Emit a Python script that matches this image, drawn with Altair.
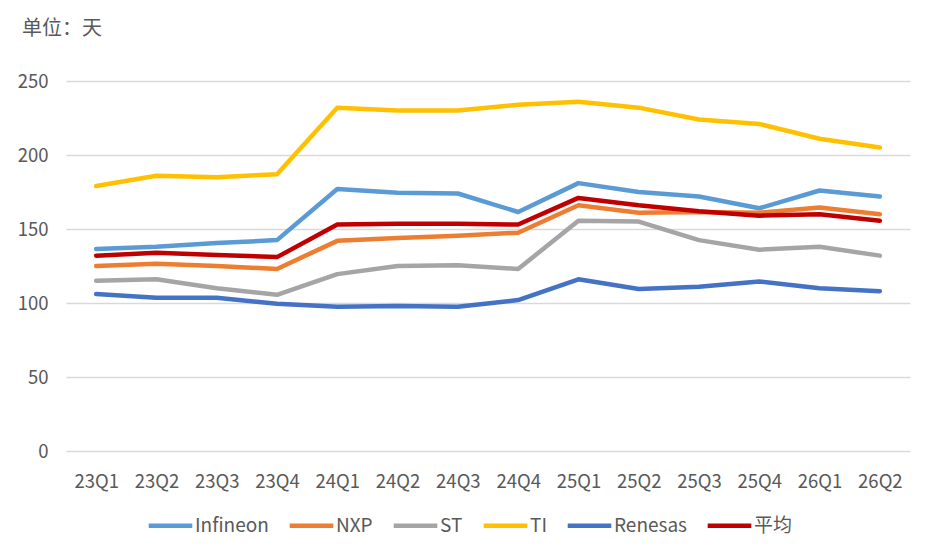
import altair as alt
import pandas as pd

quarters = ["23Q1", "23Q2", "23Q3", "23Q4", "24Q1", "24Q2", "24Q3", "24Q4",
            "25Q1", "25Q2", "25Q3", "25Q4", "26Q1", "26Q2"]
series_names = ["Infineon", "NXP", "ST", "TI", "Renesas", "平均"]
colors = ["#5B9BD5", "#ED7D31", "#A5A5A5", "#FFC000", "#4472C4", "#C00000"]
widths = [4.5, 4.5, 4.5, 4.5, 4.5, 6.5]

infineon = [136.5, 138, 140.5, 142.5, 177, 174.5, 174, 161.5, 181, 175, 172, 164, 176, 172]
nxp = [125, 126.5, 125, 123, 142, 144, 145.5, 147.5, 166, 161, 161.5, 161, 164.5, 160]
st = [115, 116, 110, 105.5, 119.5, 125, 125.5, 123, 155.5, 155, 142.5, 136, 138, 132]
ti = [179, 186, 185, 187, 232, 230, 230, 234, 236, 232, 224, 221, 211, 205]
renesas = [106, 103.5, 103.5, 99.5, 97.5, 98, 97.5, 102, 116, 109.5, 111, 114.5, 110, 108]
average = [132, 134, 132.5, 131, 153, 153.5, 153.5, 153, 171, 166, 162, 159, 160, 155.5]

y_ticks = [0, 50, 100, 150, 200, 250]

rows = []
for name, vals in zip(series_names, [infineon, nxp, st, ti, renesas, average]):
    for q, v in zip(quarters, vals):
        rows.append({"quarter": q, "series": name, "value": v})
df = pd.DataFrame(rows)

FONT = "Noto Sans CJK SC"
TXT = "#595959"

chart = alt.Chart(df).mark_line(strokeCap="round", strokeJoin="round").encode(
    x=alt.X("quarter:N", sort=quarters, title=None,
            scale=alt.Scale(type="point", padding=0.5),
            axis=alt.Axis(labelAngle=0, ticks=False, domain=False, grid=False,
                          labelFont=FONT, labelFontSize=18.5, labelColor=TXT,
                          labelPadding=21)),
    y=alt.Y("value:Q", title=None,
            scale=alt.Scale(domain=[0, 250], nice=False),
            axis=alt.Axis(values=y_ticks, ticks=False, domain=False,
                          gridColor="#D9D9D9", gridWidth=1.5,
                          labelFont=FONT, labelFontSize=18.5, labelColor=TXT,
                          labelPadding=18)),
    color=alt.Color("series:N", sort=series_names,
                    scale=alt.Scale(domain=series_names, range=colors),
                    legend=alt.Legend(title=None, orient="none", direction="horizontal",
                                      legendX=80, legendY=420,
                                      symbolType="stroke", symbolSize=1900,
                                      symbolStrokeWidth=5, labelFont=FONT,
                                      labelFontSize=19, labelColor=TXT,
                                      labelOffset=0, columnPadding=11)),
    strokeWidth=alt.StrokeWidth("series:N", sort=series_names,
                                scale=alt.Scale(domain=series_names, range=widths),
                                legend=None),
).properties(
    width=844,
    height=370,
    title=alt.TitleParams(text="单位：天", anchor="start", frame="group", dx=-44,
                          offset=33, font=FONT, fontSize=20, fontWeight="normal",
                          color=TXT),
    autosize=alt.AutoSizeParams(type="none"),
    padding={"left": 58, "top": 73, "right": 10, "bottom": 90},
).configure_view(stroke=None)

chart.save("out.html", embed_options={"renderer": "svg", "actions": False})
